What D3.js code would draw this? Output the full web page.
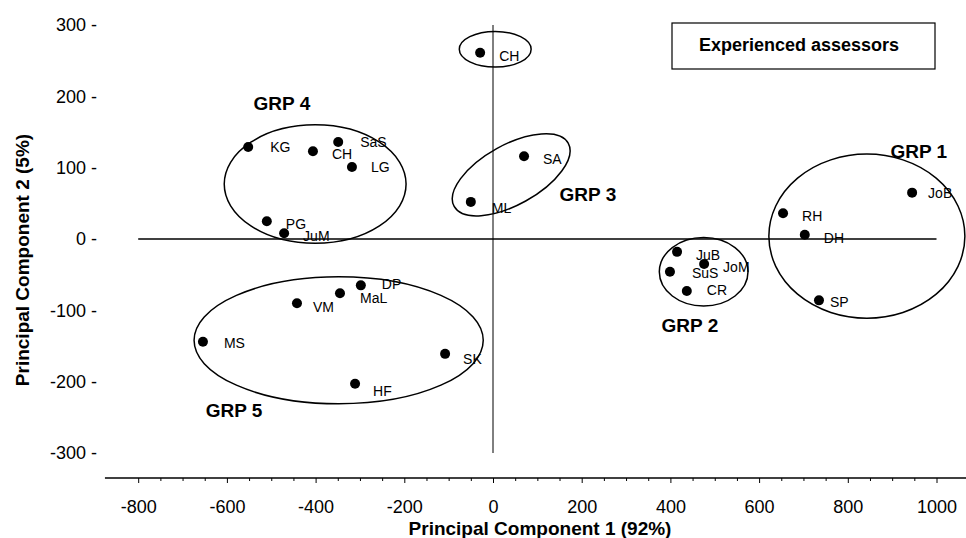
<!DOCTYPE html>
<html>
<head>
<meta charset="utf-8">
<script src="https://cdn.jsdelivr.net/npm/d3@7/dist/d3.min.js"></script>
<style>
  body { margin: 0; background: #fff; }
  svg { display: block; font-family: 'Liberation Sans', Arial, Helvetica, sans-serif; }
</style>
</head>
<body>
<svg></svg>
<script>
// assessors, PCA scores
const assessors = ['CH', 'SA', 'ML', 'KG', 'CH', 'SaS', 'LG', 'PG', 'JuM', 'DP', 'MaL', 'VM', 'MS', 'SK', 'HF', 'JoB', 'RH', 'DH', 'SP', 'JuB', 'SuS', 'JoM', 'CR']
const pc1 = [-29, 70, -50, -552, -406, -349, -318, -510, -471, -298, -345, -442, -654, -108, -311, 945, 654, 703, 735, 415, 399, 476, 437]
const pc2 = [261, 116, 52, 129, 123, 136, 101, 25, 8, -65, -76, -90, -144, -161, -203, 65, 36, 6, -86, -18, -46, -35, -73]

// group ellipses (data units)
const groups = ['', 'GRP 1', 'GRP 2', 'GRP 3', 'GRP 4', 'GRP 5']
const groupCx = [5, 843, 475, 41, -401, -348]
const groupCy = [266, 4, -46, 90, 77, -142]
const groupRx = [81, 221, 100, 147, 205, 326]
const groupRy = [25, 115, 48, 42, 83, 89]
const groupAngle = [0, 0, 0, -29, 0, 0]
const groupLabelX = [null, 960, 444, 214, -476, -584]
const groupLabelY = [null, 123, -121, 63, 191, -240]

// ticks
const xTicks = [-800, -600, -400, -200, 0, 200, 400, 600, 800, 1000]
const yTicks = [300, 200, 100, 0, -100, -200, -300]

const w = 966
const h = 538

// label nudges in px (default right of the dot)
const nudge = {
  KG: [22, 0], SaS: [22, 0], LG: [19, 0], VM: [16, 4], SK: [18, 5], HF: [18, 7],
  ML: [21, 6], SP: [11, 2], JoB: [16, 0], CR: [20, -1], SuS: [22, 1], MS: [21, 1],
  DP: [21, -1], MaL: [20, 5]
}

const svg = d3.select('svg')
  .attr('width', w)
  .attr('height', h)

const xScale = d3.scaleLinear()
  .domain([-800, 1000])
  .range([138.2, 936.5])

const yScale = d3.scaleLinear()
  .domain([-300, 300])
  .range([453, 25])

// bottom axis line
svg.append('line')
  .attr('x1', xScale(-875))
  .attr('x2', w)
  .attr('y1', 478)
  .attr('y2', 478)
  .attr('stroke', '#000')
  .attr('stroke-width', 1.5)

// minor ticks every 50
const minor = d3.range(-800, 1001, 50).filter(d => d % 200 !== 0)
svg.append('g')
  .attr('transform', 'translate(0,478)')
  .call(d3.axisBottom(xScale).tickValues(minor).tickSize(3).tickFormat(''))
  .call(g => g.select('.domain').remove())

// major ticks + labels
svg.append('g')
  .attr('transform', 'translate(0,478)')
  .call(d3.axisBottom(xScale).tickValues(xTicks).tickSize(5).tickPadding(17).tickFormat(d => String(d)))
  .call(g => g.select('.domain').remove())
  .call(g => g.selectAll('text')
    .style('font-family', 'inherit')
    .style('font-size', '18px')
    .attr('fill', '#000'))

// y axis: labels only, dash as tick mark
svg.append('g')
  .attr('transform', 'translate(97,0)')
  .call(d3.axisLeft(yScale).tickValues(yTicks).tickSize(0).tickPadding(0).tickFormat(d => d + ' -'))
  .call(g => g.select('.domain').remove())
  .call(g => g.selectAll('text')
    .style('font-family', 'inherit')
    .style('font-size', '18px')
    .attr('fill', '#000'))

// axis titles
svg.append('text')
  .attr('x', 540)
  .attr('y', 535)
  .attr('text-anchor', 'middle')
  .style('font-weight', 'bold')
  .style('font-size', '19px')
  .text('Principal Component 1 (92%)')

svg.append('text')
  .attr('transform', 'translate(29,260)rotate(-90)')
  .attr('text-anchor', 'middle')
  .style('font-weight', 'bold')
  .style('font-size', '19px')
  .text('Principal Component 2 (5%)')

// reference lines through the origin
svg.append('line')
  .attr('x1', xScale(-800))
  .attr('x2', xScale(1000))
  .attr('y1', yScale(0))
  .attr('y2', yScale(0))
  .attr('stroke', '#000')
  .attr('stroke-width', 1.5)

svg.append('line')
  .attr('x1', xScale(0))
  .attr('x2', xScale(0))
  .attr('y1', yScale(300))
  .attr('y2', yScale(-300))
  .attr('stroke', '#000')
  .attr('stroke-width', 1)

// group ellipses
const kx = xScale(1) - xScale(0)
const ky = yScale(0) - yScale(1)

svg.selectAll('ellipse')
  .data(groups)
  .enter()
  .append('ellipse')
  .attr('cx', 0)
  .attr('cy', 0)
  .attr('rx', (d, i) => groupRx[i] * kx)
  .attr('ry', (d, i) => groupRy[i] * ky)
  .attr('transform', (d, i) => `translate(${xScale(groupCx[i])},${yScale(groupCy[i])})rotate(${groupAngle[i]})`)
  .attr('fill', 'none')
  .attr('stroke', '#000')
  .attr('stroke-width', 1.5)

svg.selectAll('.grp')
  .data(groups.filter(d => d))
  .enter()
  .append('text')
  .attr('class', 'grp')
  .attr('x', (d, i) => xScale(groupLabelX[i + 1]))
  .attr('y', (d, i) => yScale(groupLabelY[i + 1]))
  .attr('dy', '0.36em')
  .attr('text-anchor', 'middle')
  .style('font-weight', 'bold')
  .style('font-size', '19px')
  .text(d => d)

// points
svg.selectAll('.dot')
  .data(assessors)
  .enter()
  .append('circle')
  .attr('class', 'dot')
  .attr('cx', (d, i) => xScale(pc1[i]))
  .attr('cy', (d, i) => yScale(pc2[i]))
  .attr('r', 5)
  .attr('fill', '#000')

svg.selectAll('.lbl')
  .data(assessors)
  .enter()
  .append('text')
  .attr('class', 'lbl')
  .attr('x', (d, i) => xScale(pc1[i]) + (nudge[d] ? nudge[d][0] : 19))
  .attr('y', (d, i) => yScale(pc2[i]) + (nudge[d] ? nudge[d][1] : 3))
  .attr('dy', '0.36em')
  .style('font-size', '14px')
  .text(d => d)

// legend box
const legend = svg.append('g')
  .attr('transform', 'translate(672,23)')

legend.append('rect')
  .attr('width', 263)
  .attr('height', 46)
  .attr('fill', '#fff')
  .attr('stroke', '#000')
  .attr('stroke-width', 1.2)

legend.append('text')
  .attr('x', 127)
  .attr('y', 22)
  .attr('dy', '0.36em')
  .attr('text-anchor', 'middle')
  .style('font-weight', 'bold')
  .style('font-size', '18px')
  .text('Experienced assessors')
</script>
</body>
</html>
